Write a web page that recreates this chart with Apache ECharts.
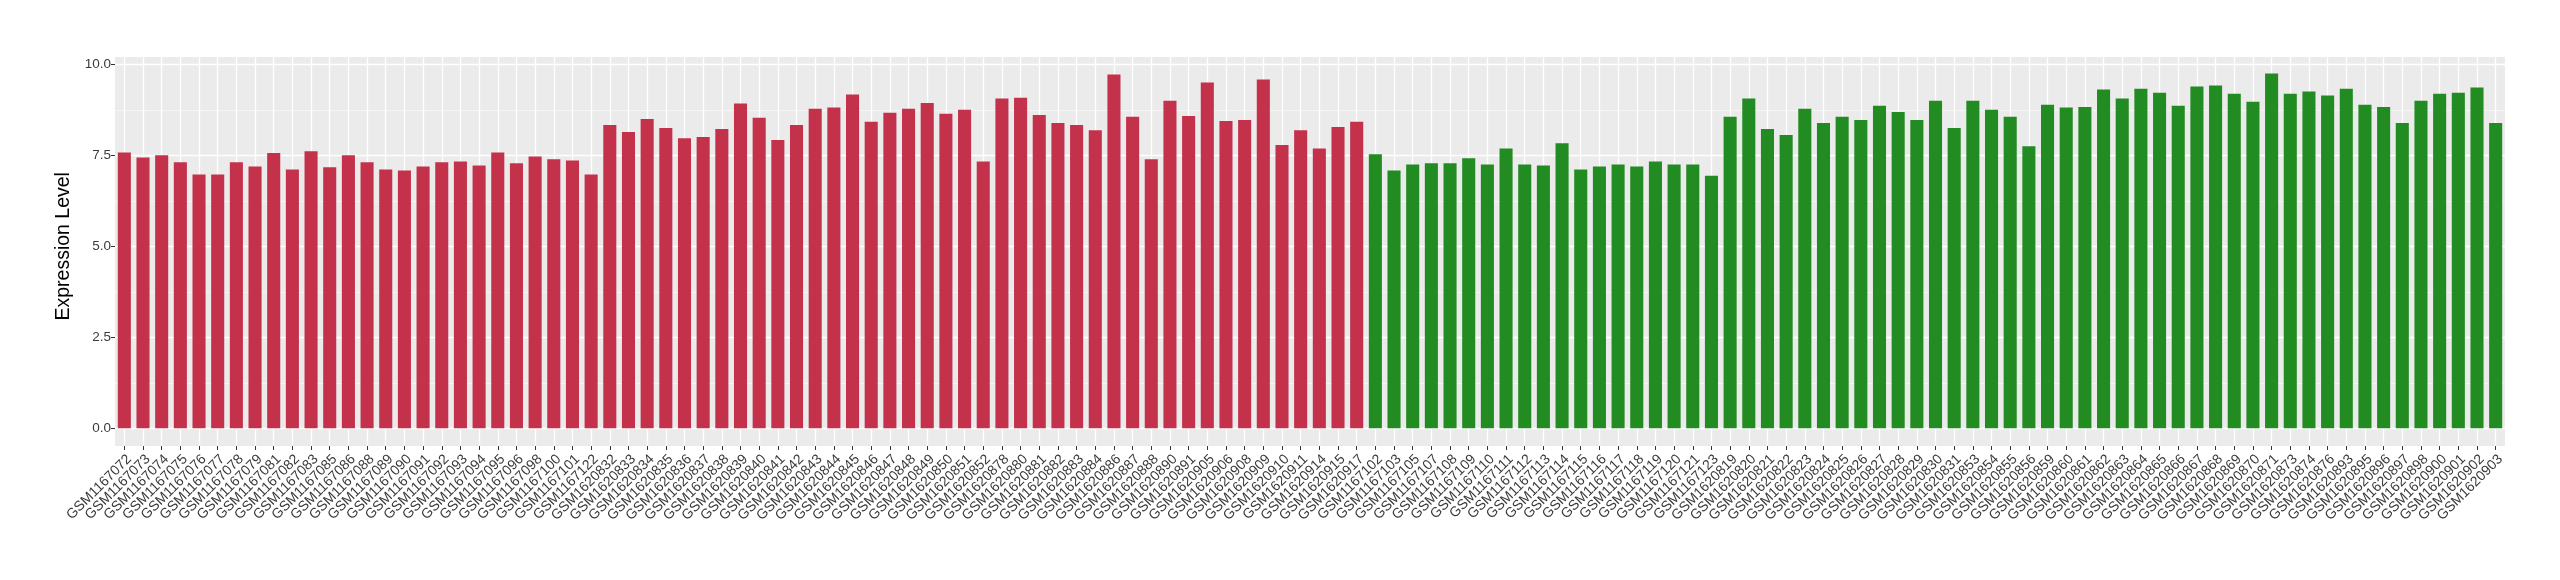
<!DOCTYPE html>
<html>
<head>
<meta charset="utf-8">
<script src="https://cdn.jsdelivr.net/npm/echarts@6/dist/echarts.min.js"></script>
<style>
html,body{margin:0;padding:0;background:#fff;}
#chart{width:2560px;height:580px;}
</style>
</head>
<body>
<div id="chart"></div>
<script>
const redLabels = [
 'GSM1167072','GSM1167073','GSM1167074','GSM1167075','GSM1167076','GSM1167077','GSM1167078','GSM1167079',
 'GSM1167081','GSM1167082','GSM1167083','GSM1167085','GSM1167086','GSM1167088','GSM1167089','GSM1167090',
 'GSM1167091','GSM1167092','GSM1167093','GSM1167094','GSM1167095','GSM1167096','GSM1167098','GSM1167100',
 'GSM1167101','GSM1167122',
 'GSM1620832','GSM1620833','GSM1620834','GSM1620835','GSM1620836','GSM1620837','GSM1620838','GSM1620839',
 'GSM1620840','GSM1620841','GSM1620842','GSM1620843','GSM1620844','GSM1620845','GSM1620846','GSM1620847',
 'GSM1620848','GSM1620849','GSM1620850','GSM1620851','GSM1620852',
 'GSM1620878','GSM1620880','GSM1620881','GSM1620882','GSM1620883','GSM1620884','GSM1620886','GSM1620887',
 'GSM1620888','GSM1620890','GSM1620891',
 'GSM1620905','GSM1620906','GSM1620908','GSM1620909','GSM1620910','GSM1620911','GSM1620914','GSM1620915',
 'GSM1620917'
];
const redValues = [
 7.58, 7.44, 7.50, 7.31, 6.97, 6.97, 7.31, 7.19, 7.56, 7.11, 7.61, 7.17, 7.50, 7.31, 7.11, 7.08,
 7.19, 7.31, 7.33, 7.22, 7.58, 7.28, 7.47, 7.39, 7.36, 6.97,
 8.33, 8.14, 8.50, 8.25, 7.97, 8.00, 8.22, 8.92, 8.53, 7.92, 8.33, 8.78, 8.81, 9.17, 8.42, 8.67,
 8.78, 8.94, 8.64, 8.75, 7.33, 9.06, 9.08, 8.61, 8.39, 8.33,
 8.19, 9.72, 8.56, 7.39, 9.00, 8.58, 9.50, 8.44, 8.47, 9.58, 7.78, 8.19, 7.69, 8.28, 8.42
];
const greenLabels = [
 'GSM1167102','GSM1167103','GSM1167105','GSM1167107','GSM1167108','GSM1167109','GSM1167110','GSM1167111',
 'GSM1167112','GSM1167113','GSM1167114','GSM1167115','GSM1167116','GSM1167117','GSM1167118','GSM1167119',
 'GSM1167120','GSM1167121','GSM1167123',
 'GSM1620819','GSM1620820','GSM1620821','GSM1620822','GSM1620823','GSM1620824','GSM1620825','GSM1620826',
 'GSM1620827','GSM1620828','GSM1620829','GSM1620830','GSM1620831',
 'GSM1620853','GSM1620854','GSM1620855','GSM1620856','GSM1620859','GSM1620860','GSM1620861','GSM1620862',
 'GSM1620863','GSM1620864','GSM1620865','GSM1620866','GSM1620867','GSM1620868','GSM1620869','GSM1620870',
 'GSM1620871','GSM1620873','GSM1620874','GSM1620876','GSM1620893','GSM1620895','GSM1620896','GSM1620897',
 'GSM1620898','GSM1620900','GSM1620901','GSM1620902','GSM1620903'
];
const greenValues = [
 7.53, 7.08, 7.25, 7.28, 7.28, 7.42, 7.25, 7.69, 7.25, 7.22,
 7.83, 7.11, 7.19, 7.25, 7.19, 7.33, 7.25, 7.25, 6.94,
 8.56, 9.06, 8.22, 8.06, 8.78, 8.39, 8.56, 8.47, 8.86, 8.69, 8.47, 9.00, 8.25,
 9.00, 8.75, 8.56, 7.75,
 8.89, 8.81, 8.83, 9.31, 9.06, 9.33, 9.22, 8.86, 9.39, 9.42, 9.19, 8.97, 9.75, 9.19, 9.25, 9.14,
 9.33, 8.89, 8.83, 8.39, 9.00, 9.19, 9.22, 9.36, 8.39
];
const yTicks = [0, 2.5, 5, 7.5, 10];
const yTitle = 'Expression Level';
const RED = '#C3324A', GREEN = '#228B22';

const categories = redLabels.concat(greenLabels);
const barData = redValues.map(v => ({value: v, itemStyle: {color: RED}}))
  .concat(greenValues.map(v => ({value: v, itemStyle: {color: GREEN}})));

const FONT = '"Liberation Sans", Arial, Helvetica, sans-serif';
const chart = echarts.init(document.getElementById('chart'), null, {renderer: 'canvas'});
chart.setOption({
  backgroundColor: '#ffffff',
  animation: false,
  grid: [
    {left: 115, right: 55, top: 57, bottom: 134, show: true, backgroundColor: '#EBEBEB', borderWidth: 0, containLabel: false},
    {left: 115, right: 55, top: 64.3, bottom: 151.7, show: false, containLabel: false}
  ],
  xAxis: [
    {
      gridIndex: 0, type: 'category', data: categories, boundaryGap: true,
      axisLine: {show: false},
      axisTick: {show: true, alignWithLabel: true, length: 4, lineStyle: {color: '#333333', width: 1}},
      splitLine: {show: true, alignWithLabel: true, lineStyle: {color: '#ffffff', width: 1.3}},
      axisLabel: {
        show: true, interval: 0, rotate: 45, margin: 6, fontSize: 14, color: '#3A3A3A',
        fontFamily: FONT, align: 'right', verticalAlign: 'top', hideOverlap: false
      }
    },
    {
      gridIndex: 1, type: 'category', data: categories, boundaryGap: true,
      axisLine: {show: false}, axisTick: {show: false}, axisLabel: {show: false}, splitLine: {show: false}
    }
  ],
  yAxis: [
    {gridIndex: 0, type: 'value', show: false, splitLine: {show: false}},
    {
      gridIndex: 1, type: 'value', min: yTicks[0], max: yTicks[yTicks.length - 1], interval: 2.5,
      name: yTitle, nameLocation: 'middle', nameGap: 40,
      nameTextStyle: {fontSize: 19.5, color: '#000000', fontFamily: FONT},
      axisLine: {show: false},
      axisTick: {show: true, length: 4, lineStyle: {color: '#333333', width: 1}},
      axisLabel: {fontSize: 13.5, color: '#3A3A3A', fontFamily: FONT, margin: 4, formatter: v => v.toFixed(1)},
      splitLine: {show: true, lineStyle: {color: '#ffffff', width: 1.3}},
      minorTick: {show: false, splitNumber: 2},
      minorSplitLine: {show: true, lineStyle: {color: '#FAFAFA', width: 0.7}}
    }
  ],
  series: [{
    type: 'bar', xAxisIndex: 1, yAxisIndex: 1, data: barData, barWidth: '70%', z: 5
  }]
});
</script>
</body>
</html>
